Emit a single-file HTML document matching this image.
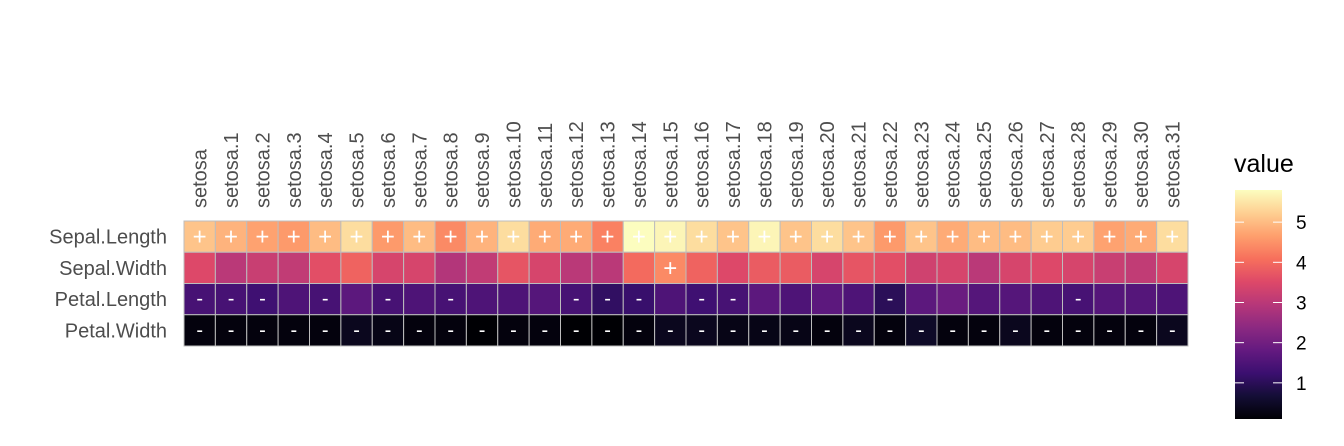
<!DOCTYPE html>
<html><head><meta charset="utf-8"><style>
body{margin:0;background:#fff;font-family:"Liberation Sans","DejaVu Sans",sans-serif;}
</style></head><body>
<svg id="chart" width="1344" height="441" xmlns="http://www.w3.org/2000/svg">
<defs>
<linearGradient id="magma" x1="0" y1="1" x2="0" y2="0">
<stop offset="0" stop-color="#000004"/><stop offset="0.1" stop-color="#140e36"/><stop offset="0.2" stop-color="#3b0f70"/><stop offset="0.3" stop-color="#641a80"/><stop offset="0.4" stop-color="#8c2981"/><stop offset="0.5" stop-color="#b73779"/><stop offset="0.6" stop-color="#de4968"/><stop offset="0.7" stop-color="#f7705c"/><stop offset="0.8" stop-color="#fe9f6d"/><stop offset="0.9" stop-color="#fecf92"/><stop offset="1" stop-color="#fcfdbf"/>
</linearGradient>
</defs>
<g id="cells"></g>
<g id="xlabels"></g>
<g id="ylabels"></g>
<g>
<text x="1234" y="172" font-size="25" fill="#000">value</text>
<rect id="cbar" x="1235" y="190" width="47" height="229" fill="url(#magma)"/>
<g id="lticks"></g>
</g>
</svg>
<script>
const columns = ["setosa","setosa.1","setosa.2","setosa.3","setosa.4","setosa.5","setosa.6","setosa.7","setosa.8","setosa.9","setosa.10","setosa.11","setosa.12","setosa.13","setosa.14","setosa.15","setosa.16","setosa.17","setosa.18","setosa.19","setosa.20","setosa.21","setosa.22","setosa.23","setosa.24","setosa.25","setosa.26","setosa.27","setosa.28","setosa.29","setosa.30","setosa.31"];
const rows = ["Sepal.Length","Sepal.Width","Petal.Length","Petal.Width"];
const sepalLength = [5.1,4.9,4.7,4.6,5.0,5.4,4.6,5.0,4.4,4.9,5.4,4.8,4.8,4.3,5.8,5.7,5.4,5.1,5.7,5.1,5.4,5.1,4.6,5.1,4.8,5.0,5.0,5.2,5.2,4.7,4.8,5.4];
const sepalWidth = [3.5,3.0,3.2,3.1,3.6,3.9,3.4,3.4,2.9,3.1,3.7,3.4,3.0,3.0,4.0,4.4,3.9,3.5,3.8,3.8,3.4,3.7,3.6,3.3,3.4,3.0,3.4,3.5,3.4,3.2,3.1,3.4];
const petalLength = [1.4,1.4,1.3,1.5,1.4,1.7,1.4,1.5,1.4,1.5,1.5,1.6,1.4,1.1,1.2,1.5,1.3,1.4,1.7,1.5,1.7,1.5,1.0,1.7,1.9,1.6,1.6,1.5,1.4,1.6,1.6,1.5];
const petalWidth = [0.2,0.2,0.2,0.2,0.2,0.4,0.3,0.2,0.2,0.1,0.2,0.2,0.1,0.1,0.2,0.4,0.4,0.3,0.3,0.3,0.2,0.4,0.2,0.5,0.2,0.2,0.4,0.2,0.2,0.2,0.2,0.4];
const series = [sepalLength, sepalWidth, petalLength, petalWidth];
const legendTicks = [1,2,3,4,5];
const vmin = 0.1, vmax = 5.8, hiThresh = 4.2, loThresh = 1.45;

const NS = "http://www.w3.org/2000/svg";
const X0 = 184, X1 = 1188, Y0 = 221, Y1 = 346;
const cw = (X1 - X0) / columns.length, rh = (Y1 - Y0) / rows.length;
const xPos = i => X0 + i * cw;
const yPos = j => Y0 + j * rh;
const stops = [[0,[0,0,4]],[0.1,[20,14,54]],[0.2,[59,15,112]],[0.3,[100,26,128]],[0.4,[140,41,129]],[0.5,[183,55,121]],[0.6,[222,73,104]],[0.7,[247,112,92]],[0.8,[254,159,109]],[0.9,[254,207,146]],[1,[252,253,191]]];
function color(v){
  let t = Math.max(0, Math.min(1, (v - vmin) / (vmax - vmin)));
  for (let k = 1; k < stops.length; k++) {
    if (t <= stops[k][0]) {
      const a = stops[k-1], b = stops[k], f = (t - a[0]) / (b[0] - a[0]);
      const c = a[1].map((x, i) => Math.round(x + (b[1][i] - x) * f));
      return `rgb(${c[0]},${c[1]},${c[2]})`;
    }
  }
  return "rgb(252,253,191)";
}
const cells = document.getElementById("cells");
series.forEach((vals, j) => {
  vals.forEach((v, i) => {
    const r = document.createElementNS(NS, "rect");
    r.setAttribute("x", xPos(i)); r.setAttribute("y", yPos(j));
    r.setAttribute("width", cw); r.setAttribute("height", rh);
    r.setAttribute("fill", color(v));
    r.setAttribute("stroke", "#bdbdbd"); r.setAttribute("stroke-width", "1");
    
    
    cells.appendChild(r);
    let mark = v > hiThresh ? "+" : (v < loThresh ? "-" : "");
    if (mark) {
      const t = document.createElementNS(NS, "text");
      t.setAttribute("x", xPos(i) + cw / 2); t.setAttribute("y", yPos(j) + rh / 2 + (mark === "+" ? 8 : 6));
      t.setAttribute("text-anchor", "middle"); t.setAttribute("fill", "#fff");
      t.setAttribute("font-size", mark === "+" ? "24" : "20");
      t.textContent = mark;
      
      
      cells.appendChild(t);
    }
  });
});
const xl = document.getElementById("xlabels");
columns.forEach((c, i) => {
  const t = document.createElementNS(NS, "text");
  const x = xPos(i) + cw / 2 + 7, y = 208;
  t.setAttribute("transform", `translate(${x},${y}) rotate(-90)`);
  t.setAttribute("font-size", "20"); t.setAttribute("fill", "#4d4d4d");
  t.textContent = c;
  
  
  xl.appendChild(t);
});
const yl = document.getElementById("ylabels");
rows.forEach((r, j) => {
  const t = document.createElementNS(NS, "text");
  t.setAttribute("x", 167); t.setAttribute("y", yPos(j) + rh / 2 + 7);
  t.setAttribute("text-anchor", "end"); t.setAttribute("font-size", "20"); t.setAttribute("fill", "#4d4d4d");
  t.textContent = r;
  
  
  yl.appendChild(t);
});
const lt = document.getElementById("lticks");
const cbTop = 190, cbH = 229;
const ly = v => cbTop + cbH * (1 - (v - vmin) / (vmax - vmin));
legendTicks.forEach(v => {
  [1235, 1273].forEach(x0 => {
    const l = document.createElementNS(NS, "line");
    l.setAttribute("x1", x0); l.setAttribute("x2", x0 + 9);
    l.setAttribute("y1", ly(v)); l.setAttribute("y2", ly(v));
    l.setAttribute("stroke", "#fff"); l.setAttribute("stroke-width", "1");
    
    
    lt.appendChild(l);
  });
  const t = document.createElementNS(NS, "text");
  t.setAttribute("x", 1296); t.setAttribute("y", ly(v) + 7);
  t.setAttribute("font-size", "19"); t.setAttribute("fill", "#000");
  t.textContent = v;
  
  
  lt.appendChild(t);
});
</script>
</body></html>
